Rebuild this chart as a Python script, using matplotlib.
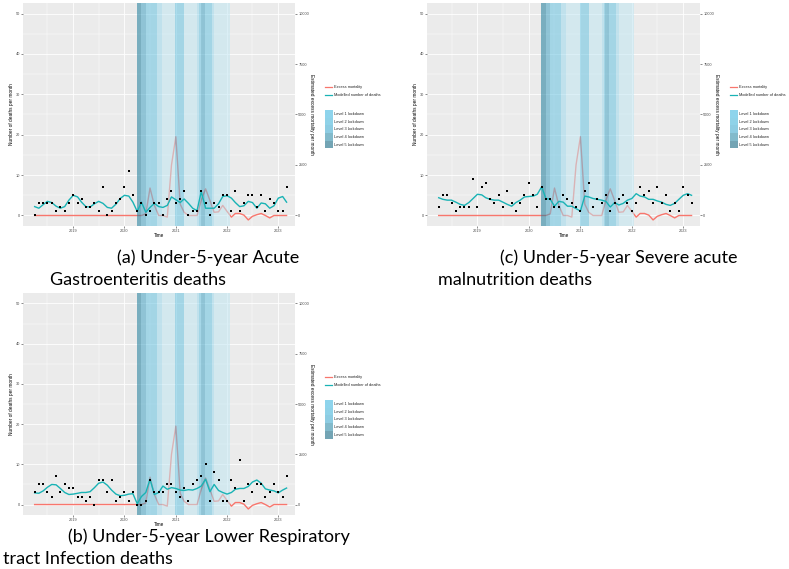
import matplotlib
matplotlib.use('Agg')
from matplotlib import pyplot as plt
import matplotlib.dates as mdates
import matplotlib.transforms as mtransforms
from matplotlib.lines import Line2D
from matplotlib.patches import Rectangle
import pandas as pd

W, H = 789, 569

meses = pd.date_range('2018-04-01', periods=60, freq='MS')

# (a) gastroenteritis
obs_a = [0, 3, 3, 3, 3, 1, 2, 1, 3, 5, 3, 4, 2, 2, 3, 1, 7, 0, 1, 3,
         4, 7, 11, 5, 1, 3, 0, 1, 3, 3, 0, 4, 6, 3, 4, 6, 0, 1, 1, 6,
         3, 0, 3, 2, 5, 5, 1, 6, 1, 3, 5, 5, 2, 5, 1, 4, 3, 1, 1, 7]
model_a = [2.2, 1.8, 2.7, 3.5, 3.2, 2.3, 1.8, 2.2, 3.8, 5.0, 4.6, 3.3, 2.2, 2.1, 2.9,
           3.5, 3.0, 2.0, 1.8, 2.8, 4.2, 5.0, 4.8, 3.3, 1.0,
           3.3, 0.8, 2.0, 3.0, 2.2, 2.0, 2.5, 4.6, 3.9, 3.2, 4.1, 3.0, 1.8, 1.2, 5.9,
           1.8, 1.8, 1.8, 2.9, 4.7, 4.9, 4.3, 3.2, 2.2, 2.4, 3.5, 3.2, 1.8, 3.1, 2.9,
           1.8, 2.4, 4.3, 4.7, 3.3]

# (b) lower respiratory tract infection
obs_b = [3, 5, 5, 3, 2, 7, 3, 5, 4, 4, 2, 2, 1, 2, 0, 6, 6, 3, 6, 1,
         2, 3, 1, 3, 0, 0, 1, 6, 3, 3, 3, 5, 5, 3, 2, 4, 1, 5, 6, 7,
         10, 1, 8, 6, 1, 1, 6, 4, 11, 1, 5, 3, 5, 5, 2, 3, 5, 3, 2, 7]
model_b = [2.9, 2.8, 3.4, 4.3, 5.0, 4.9, 4.0, 3.0, 2.5, 2.6, 2.8, 3.0, 3.0, 3.2, 4.2,
           5.3, 5.6, 4.8, 3.6, 2.6, 2.2, 2.3, 2.6, 2.7, 0.2,
           2.0, 3.0, 6.3, 2.5, 3.0, 4.6, 3.8, 4.2, 4.0, 3.6, 3.5, 3.7, 3.6, 4.0, 4.6,
           6.3, 3.2, 5.0, 3.5, 3.0, 2.6, 3.0, 3.8, 4.0, 4.0, 4.5, 5.6, 6.1, 5.3, 3.9,
           3.6, 3.4, 2.9, 3.6, 4.1]

# (c) severe acute malnutrition
obs_c = [2, 5, 5, 3, 1, 2, 2, 2, 9, 2, 7, 8, 4, 3, 5, 2, 6, 3, 1, 3,
         5, 8, 5, 2, 7, 4, 4, 2, 2, 5, 4, 3, 2, 1, 6, 8, 2, 4, 3, 5,
         1, 3, 4, 5, 3, 1, 3, 7, 5, 6, 3, 7, 3, 5, 1, 3, 1, 7, 5, 3]
model_c = [4.4, 4.0, 3.8, 3.8, 3.3, 2.75, 2.5, 3.2, 4.2, 5.25, 5.1, 4.4, 4.0, 3.8, 3.8,
           3.3, 2.75, 2.3, 3.2, 3.8, 4.6, 4.7, 4.8, 5.25, 7.1,
           4.2, 4.0, 2.3, 3.5, 3.3, 2.3, 2.3, 1.7, 1.1, 4.8, 4.6, 4.2, 4.0, 3.8, 3.5,
           2.1, 3.2, 2.6, 3.0, 3.8, 4.2, 5.4, 4.8, 4.6, 4.0, 4.0, 3.6, 3.3, 2.75, 2.5,
           3.0, 4.0, 5.0, 5.4, 5.0]

# exceso de mortalidad (eje derecho)
exceso = [0] * 25 + [0, 80, 1360, 500, 0, 0, -80, 2500, 3900, 560, 160, 0, 0, 0, 760,
                     1320, 740, 160, 180, 500, 200, -80, 100, 100, 20, -220, -40, 40, 100, 0,
                     -120, 0, 0, 0, 0]

ld_inicio = ['2020-03-27', '2020-05-01', '2020-06-01', '2020-08-18', '2020-09-21',
             '2020-12-29', '2021-03-01', '2021-05-31', '2021-06-16', '2021-06-28',
             '2021-07-26', '2021-09-13', '2021-10-01']
ld_fin = ['2020-05-01', '2020-06-01', '2020-08-18', '2020-09-21', '2020-12-29',
          '2021-03-01', '2021-05-31', '2021-06-16', '2021-06-28', '2021-07-26',
          '2021-09-13', '2021-10-01', '2022-01-20']
ld_nivel = [5, 4, 3, 2, 1, 3, 1, 2, 3, 4, 3, 2, 1]

niveles = ['Level 1 lockdown', 'Level 2 lockdown', 'Level 3 lockdown',
           'Level 4 lockdown', 'Level 5 lockdown']
color_nivel = {1: '#C1E6F2', 2: '#9ED9ED', 3: '#69C3E1', 4: '#44A3C3', 5: '#1C7D9B'}
color_clave = ['#8ED4EC', '#8FD2E8', '#8DCCE2', '#82BACB', '#73A4B4']

ROJO = '#F8766D'
TEAL = '#19B3B5'
FACTOR = 200.0
YLIM = (-2.6, 52.6)

plt.rcParams['font.family'] = ['Liberation Sans', 'DejaVu Sans']

fig = plt.figure(figsize=(W / 100, H / 100), dpi=100)
fig.patch.set_facecolor('white')


def fx(x):
    return x / W


def fy(y):
    return 1 - y / H


def panel(x0, y0, x1, y1, obs, model):
    ax = fig.add_axes([fx(x0), fy(y1), (x1 - x0) / W, (y1 - y0) / H])
    ax.set_facecolor('#EBEBEB')
    for s in ax.spines.values():
        s.set_visible(False)
    ax.set_axisbelow(True)
    ax.grid(which='major', color='white', lw=0.6)
    ax.grid(which='minor', color='white', lw=0.3)

    escala = mtransforms.Affine2D().scale(1, 1 / FACTOR) + ax.transData
    ax.plot(meses, exceso, color=ROJO, lw=1.0, zorder=1, transform=escala)
    for a, b, n in zip(ld_inicio, ld_fin, ld_nivel):
        ax.axvspan(pd.Timestamp(a), pd.Timestamp(b), color=color_nivel[n], alpha=0.55,
                   lw=0, zorder=2)
    ax.plot(meses, model, color=TEAL, lw=1.0, zorder=3)
    ax.plot(meses, obs, 's', color='black', ms=1.6, mew=0, zorder=4)

    ax.set_xlim(pd.Timestamp('2018-01-08'), pd.Timestamp('2023-04-30'))
    ax.set_ylim(*YLIM)
    ax.set_yticks([0, 10, 20, 30, 40, 50])
    ax.set_yticks([5, 15, 25, 35, 45], minor=True)
    ax.xaxis.set_major_locator(mdates.YearLocator())
    ax.xaxis.set_minor_locator(mdates.MonthLocator(bymonth=7))
    ax.xaxis.set_major_formatter(mdates.DateFormatter('%Y'))
    ax.tick_params(which='major', length=1.4, width=0.4, color='#333333',
                   labelsize=2.8, labelcolor='#4D4D4D', pad=0.6)
    ax.tick_params(which='minor', length=0)
    ax.set_xlabel('Time', fontsize=3.3, labelpad=0.2)
    ax.set_ylabel('Number of deaths per month', fontsize=3.4, labelpad=1.5)

    ax2 = ax.twinx()
    for s in ax2.spines.values():
        s.set_visible(False)
    ax2.set_ylim(YLIM[0] * FACTOR, YLIM[1] * FACTOR)
    ax2.set_yticks([0, 2500, 5000, 7500, 10000])
    ax2.tick_params(length=1.4, width=0.4, color='#333333', labelsize=2.8,
                    labelcolor='#4D4D4D', pad=1)
    ax2.set_ylabel('Estimated excess mortality per month', fontsize=3.4,
                   rotation=270, labelpad=3.5)

    # leyenda
    for k, (lab, col) in enumerate([('Excess mortality', ROJO),
                                    ('Modelled number of deaths', TEAL)]):
        y = y0 + 84 + 8 * k
        fig.add_artist(Line2D([fx(x1 + 30), fx(x1 + 37)], [fy(y), fy(y)], color=col, lw=0.9))
        fig.text(fx(x1 + 39), fy(y), lab, fontsize=2.8, va='center', color='#222222')
    for k, (lab, col) in enumerate(zip(niveles, color_clave)):
        top = y0 + 107 + 7.7 * k
        fig.add_artist(Rectangle((fx(x1 + 30), fy(top + 7.7)), 8 / W, 7.7 / H,
                                 facecolor=col, lw=0))
        fig.text(fx(x1 + 39), fy(top + 3.85), lab, fontsize=2.8, va='center', color='#222222')
    return ax


panel(23, 3, 295, 226, obs_a, model_a)
panel(427, 3, 700, 226, obs_c, model_c)
panel(23, 293, 295, 515, obs_b, model_b)

cap = dict(fontsize=13, family=['Lato', 'DejaVu Sans'], va='center', ha='left')
fig.text(fx(117), fy(258), '(a) Under-5-year Acute', **cap)
fig.text(fx(50), fy(280), 'Gastroenteritis deaths', **cap)
fig.text(fx(500), fy(258), '(c) Under-5-year Severe acute', **cap)
fig.text(fx(438), fy(280), 'malnutrition deaths', **cap)
fig.text(fx(68), fy(537), '(b) Under-5-year Lower Respiratory', **cap)
fig.text(fx(3), fy(559), 'tract Infection deaths', **cap)

fig.savefig('out.png', dpi=100)
